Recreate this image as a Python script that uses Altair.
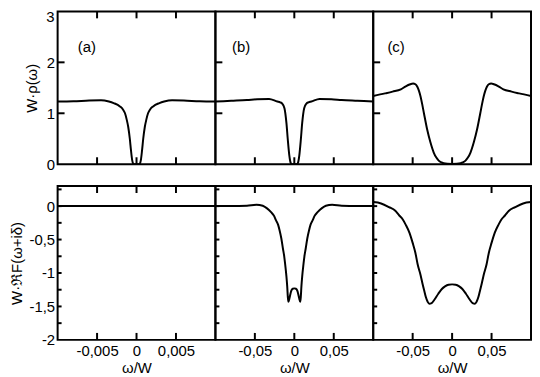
import altair as alt
import pandas as pd

# ---------------- data ----------------
# panel (a), spectral density
a_rho_x = [-0.01, -0.008, -0.006, -0.0045, -0.0035, -0.0029, -0.0021, -0.0017, -0.00146, -0.00125,
           -0.00105, -0.00085, -0.0007, -0.00055, -0.00042, -0.0003, 0.0,
           0.0003, 0.00042, 0.00055, 0.0007, 0.00085, 0.00105, 0.00125, 0.00146, 0.0017,
           0.0021, 0.0029, 0.0035, 0.0045, 0.006, 0.008, 0.01]
a_rho_y = [1.23, 1.235, 1.25, 1.255, 1.23, 1.2, 1.135, 1.07, 1.0, 0.88,
           0.73, 0.5, 0.27, 0.08, 0.01, 0.0, 0.0,
           0.0, 0.01, 0.08, 0.27, 0.5, 0.73, 0.88, 1.0, 1.07,
           1.135, 1.2, 1.23, 1.255, 1.25, 1.235, 1.23]

# panel (b), spectral density
b_rho_x = [-0.1, -0.08, -0.06, -0.047, -0.032, -0.0216, -0.018, -0.0154, -0.0125, -0.01,
           -0.0083, -0.0063, -0.0045, -0.0035, 0.0,
           0.0035, 0.0045, 0.0063, 0.0083, 0.01, 0.0125, 0.0154, 0.018, 0.0216, 0.032,
           0.047, 0.06, 0.08, 0.1]
b_rho_y = [1.23, 1.245, 1.26, 1.275, 1.28, 1.23, 1.215, 1.19, 1.1, 0.81,
           0.49, 0.17, 0.02, 0.0, 0.0,
           0.0, 0.02, 0.17, 0.49, 0.81, 1.1, 1.19, 1.215, 1.23, 1.28,
           1.275, 1.26, 1.245, 1.23]

# panel (c), spectral density
c_rho_x = [-0.1, -0.085, -0.0754, -0.065, -0.0587, -0.053, -0.0495, -0.0465, -0.0441, -0.042,
           -0.04, -0.0378, -0.0357, -0.0316, -0.0275, -0.0233, -0.02, -0.017, -0.0135, -0.0108,
           -0.006, 0.0,
           0.006, 0.0108, 0.0135, 0.017, 0.02, 0.0233, 0.0275, 0.0316, 0.0357, 0.0378,
           0.04, 0.042, 0.0441, 0.0465, 0.0495, 0.053, 0.0587, 0.065, 0.0754, 0.085, 0.1]
c_rho_y = [1.34, 1.39, 1.425, 1.47, 1.53, 1.57, 1.585, 1.57, 1.52, 1.44,
           1.33, 1.17, 1.0, 0.68, 0.43, 0.23, 0.13, 0.07, 0.035, 0.02,
           0.008, 0.005,
           0.008, 0.02, 0.035, 0.07, 0.13, 0.23, 0.43, 0.68, 1.0, 1.17,
           1.33, 1.44, 1.52, 1.57, 1.585, 1.57, 1.53, 1.47, 1.425, 1.39, 1.34]

# panel (a), real part of F
a_f_x = [-0.01, 0.0, 0.01]
a_f_y = [0.0, 0.0, 0.0]

# panel (b), real part of F
b_f_x = [-0.1, -0.08, -0.06, -0.048, -0.04, -0.035, -0.0295, -0.0255, -0.0233, -0.0205,
         -0.0187, -0.0165, -0.0145, -0.0128, -0.0116, -0.01, -0.009, -0.0082, -0.0075, -0.006,
         -0.004, -0.002, 0.0,
         0.002, 0.004, 0.006, 0.0075, 0.0082, 0.009, 0.01, 0.0116, 0.0128, 0.0145, 0.0165,
         0.0187, 0.0205, 0.0233, 0.0255, 0.0295, 0.035, 0.04, 0.048, 0.06, 0.08, 0.1]
b_f_y = [0.0, 0.0, 0.005, 0.02, 0.005, -0.03, -0.09, -0.15, -0.21, -0.28,
         -0.36, -0.48, -0.63, -0.75, -0.87, -1.05, -1.2, -1.36, -1.43, -1.37,
         -1.27, -1.235, -1.23,
         -1.235, -1.27, -1.37, -1.43, -1.36, -1.2, -1.05, -0.87, -0.75, -0.63, -0.48,
         -0.36, -0.28, -0.21, -0.15, -0.09, -0.03, 0.005, 0.02, 0.005, 0.0, 0.0]

# panel (c), real part of F
c_f_x = [-0.1, -0.09, -0.08, -0.072, -0.067, -0.0625, -0.0587, -0.054, -0.05, -0.0465,
         -0.0437, -0.04, -0.0375, -0.035, -0.0333, -0.031, -0.029, -0.026, -0.0225, -0.0175,
         -0.013, -0.009, -0.0045, 0.0,
         0.0045, 0.009, 0.013, 0.0175, 0.0225, 0.026, 0.029, 0.031, 0.0333, 0.035, 0.0375,
         0.04, 0.0437, 0.0465, 0.05, 0.054, 0.0587, 0.0625, 0.067, 0.072, 0.08, 0.09, 0.1]
c_f_y = [0.06, 0.04, -0.015, -0.07, -0.14, -0.2, -0.28, -0.4, -0.55, -0.7,
         -0.87, -1.03, -1.16, -1.28, -1.36, -1.43, -1.46, -1.45, -1.4, -1.31,
         -1.24, -1.2, -1.175, -1.17,
         -1.175, -1.2, -1.24, -1.31, -1.4, -1.45, -1.46, -1.43, -1.36, -1.28, -1.16,
         -1.03, -0.87, -0.7, -0.55, -0.4, -0.28, -0.2, -0.14, -0.07, -0.015, 0.04, 0.06]

panel_labels = ["(a)", "(b)", "(c)"]
panel_label_x = [-0.0063, -0.0675, -0.071]
panel_label_y = [2.3, 2.3, 2.3]

x_domains = [[-0.01, 0.01], [-0.1, 0.1], [-0.1, 0.1]]
x_ticks = [[-0.005, 0, 0.005], [-0.05, 0, 0.05], [-0.05, 0, 0.05]]
rho_domain = [0, 3]
rho_ticks = [1, 2]
rho_labels = [0, 1, 2]
rho_top_label = [3]
f_domain = [-2, 0.3]
f_label_ticks = [0, -0.5, -1, -1.5, -2]
f_minor_ticks = [0.25, 0, -0.25, -0.5, -0.75, -1, -1.25, -1.5, -1.75]

# ---------------- styling ----------------
FONT = "Liberation Sans"
W = 159
H_TOP = 154
H_BOT = 155
XT = 7  # inward x tick length
COMMA = "replace(toString(datum.value), '.', ',')"


def panel(xv, yv, xdom, ydom, xt, yt, ylen, xax, yax, height,
          label=None, lx=None, ly=None, top_label=False):
    df = pd.DataFrame({"x": xv, "y": yv})
    xsc = alt.Scale(domain=xdom, nice=False, zero=False)
    ysc = alt.Scale(domain=ydom, nice=False, zero=False)

    line = alt.Chart(df).mark_line(color="black", strokeWidth=2, interpolate="monotone",
                                   clip=True).encode(
        x=alt.X("x:Q", scale=xsc, axis=xax),
        y=alt.Y("y:Q", scale=ysc, axis=yax),
    )
    xt_df = pd.DataFrame({"v": xt})
    yt_df = pd.DataFrame({"v": yt})
    top_ticks = alt.Chart(xt_df).mark_rule(color="black", strokeWidth=2).encode(
        x=alt.X("v:Q", scale=xsc, axis=xax), y=alt.value(0), y2=alt.value(XT))
    bot_ticks = alt.Chart(xt_df).mark_rule(color="black", strokeWidth=2).encode(
        x=alt.X("v:Q", scale=xsc, axis=xax), y=alt.value(height - XT), y2=alt.value(height))
    left_ticks = alt.Chart(yt_df).mark_rule(color="black", strokeWidth=2).encode(
        y=alt.Y("v:Q", scale=ysc, axis=yax), x=alt.value(0), x2=alt.value(ylen))
    layers = [line, top_ticks, bot_ticks, left_ticks]
    if label is not None:
        tdf = pd.DataFrame({"x": [lx], "y": [ly], "t": [label]})
        layers.append(
            alt.Chart(tdf).mark_text(font=FONT, fontSize=15, color="black").encode(
                x=alt.X("x:Q", scale=xsc, axis=xax),
                y=alt.Y("y:Q", scale=ysc, axis=yax),
                text="t:N",
            )
        )
    if top_label:
        t3 = pd.DataFrame({"v": rho_top_label})
        layers.append(
            alt.Chart(t3).mark_text(font=FONT, fontSize=15, color="black", align="right",
                                    baseline="top", dx=-3, dy=-1).encode(
                x=alt.value(0),
                y=alt.Y("v:Q", scale=ysc, axis=yax),
                text=alt.Text("v:Q"),
            )
        )
    return alt.layer(*layers).properties(width=W, height=height)


rho_axis = alt.Axis(orient="left", values=rho_labels, labelExpr=COMMA, ticks=False, domain=False,
                    grid=False, labelPadding=3, title="W·ρ(ω)", titlePadding=7)
f_axis = alt.Axis(orient="left", values=f_label_ticks, labelExpr=COMMA, ticks=False, domain=False,
                  grid=False, labelPadding=3, title="W·ℜF(ω+iδ)", titlePadding=5)


def x_axis(vals):
    return alt.Axis(orient="bottom", values=vals, labelExpr=COMMA, ticks=False, domain=False,
                    grid=False, labelPadding=4, title="ω/W", titlePadding=2)


rho_data = [(a_rho_x, a_rho_y), (b_rho_x, b_rho_y), (c_rho_x, c_rho_y)]
f_data = [(a_f_x, a_f_y), (b_f_x, b_f_y), (c_f_x, c_f_y)]

panels = []
for i in range(3):
    panels.append(panel(rho_data[i][0], rho_data[i][1], x_domains[i], rho_domain, x_ticks[i],
                        rho_ticks, 7, None, rho_axis if i == 0 else None, H_TOP,
                        panel_labels[i], panel_label_x[i], panel_label_y[i],
                        top_label=(i == 0)))
for i in range(3):
    panels.append(panel(f_data[i][0], f_data[i][1], x_domains[i], f_domain, x_ticks[i],
                        f_minor_ticks, 4, x_axis(x_ticks[i]), f_axis if i == 0 else None, H_BOT))

chart = alt.concat(*panels, columns=3, spacing={"row": 22, "column": 0},
                   bounds="flush").properties(
    padding={"left": 0, "top": 0, "right": 0, "bottom": 0}
).configure_view(
    stroke="black", strokeWidth=2
).configure_axis(
    labelFont=FONT, labelFontSize=15, labelColor="black",
    titleFont=FONT, titleFontSize=15, titleFontWeight="normal", titleColor="black",
)

chart.save("out.html", embed_options={"renderer": "svg", "actions": False})
